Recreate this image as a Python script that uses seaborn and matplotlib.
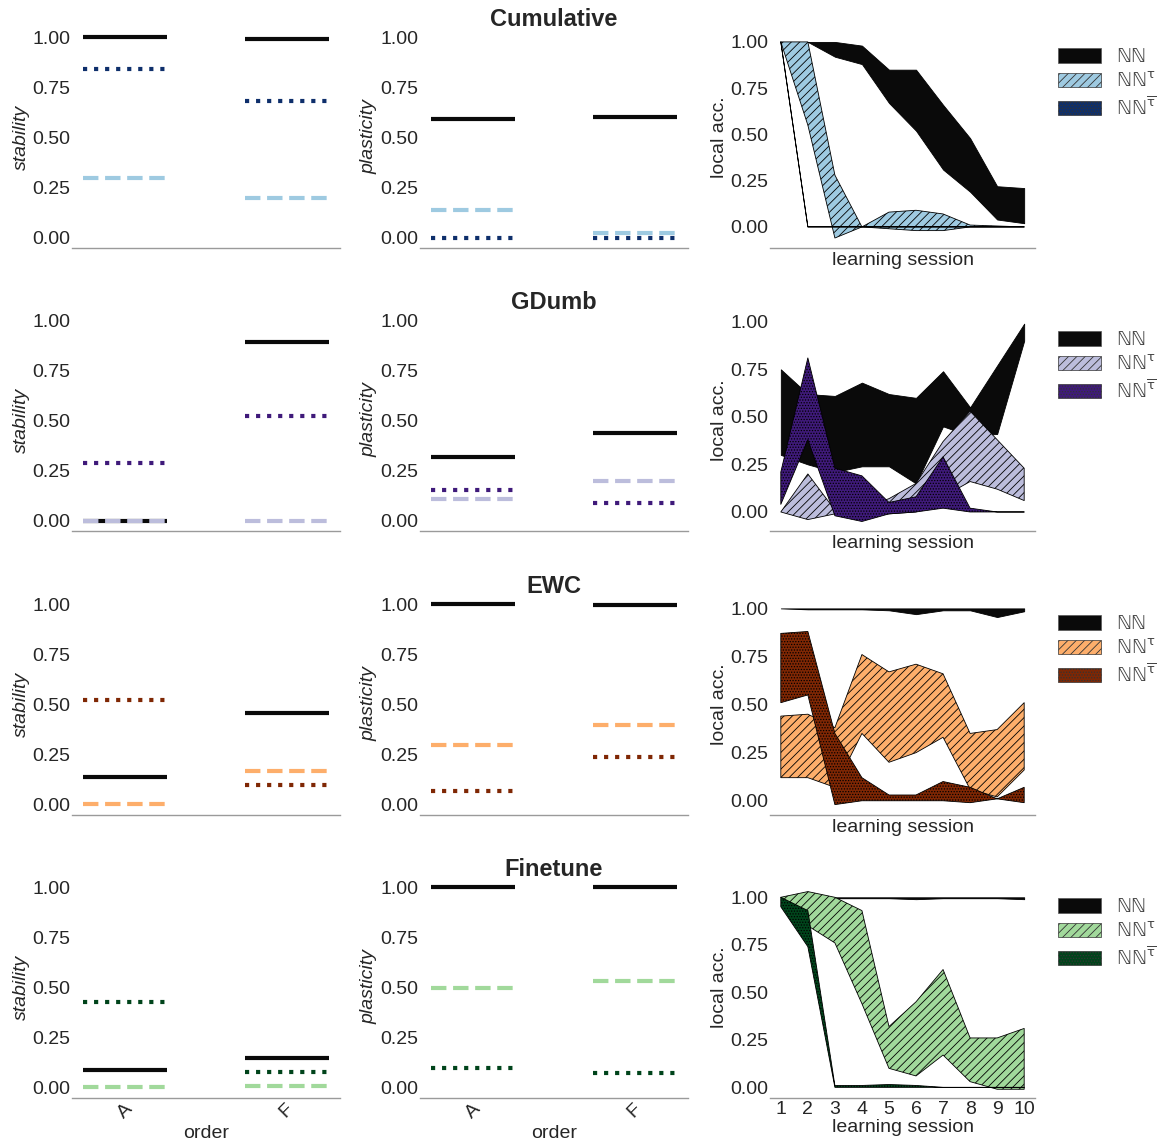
import numpy as np
import pandas as pd
import matplotlib
matplotlib.use("Agg")
import matplotlib.pyplot as plt
import matplotlib.patches as mpatches
from matplotlib.ticker import FormatStrFormatter
import seaborn as sns

# ---------------- data ----------------
methods = ["Cumulative", "GDumb", "EWC", "Finetune"]
orders = ["A", "F"]
sessions = [1, 2, 3, 4, 5, 6, 7, 8, 9, 10]
series_labels = ["ℕℕ", r"ℕℕ$^{\mathrm{\tau}}$", r"ℕℕ$^{\overline{\mathrm{\tau}}}$"]

light_colors = ["#9ecae1", "#bcbddc", "#fdae6b", "#a1d99b"]
dark_colors = ["#0e2f6b", "#3f1a7a", "#7f2704", "#00441b"]
nn_color = "#0a0a0a"

# stability per method (rows) for order A, F
stability_nn = [[1.00, 0.99], [0.00, 0.89], [0.14, 0.46], [0.09, 0.15]]
stability_tau = [[0.30, 0.20], [0.00, 0.00], [0.005, 0.17], [0.005, 0.01]]
stability_taubar = [[0.84, 0.68], [0.29, 0.52], [0.52, 0.10], [0.43, 0.08]]

# plasticity per method (rows) for order A, F
plasticity_nn = [[0.59, 0.60], [0.32, 0.44], [1.00, 0.995], [1.00, 1.00]]
plasticity_tau = [[0.14, 0.025], [0.11, 0.20], [0.30, 0.40], [0.50, 0.53]]
plasticity_taubar = [[0.0, 0.0], [0.154, 0.09], [0.07, 0.24], [0.10, 0.075]]

# local accuracy bands (lower / upper) over learning sessions
cum_nn_lo = [1.00, 1.00, 0.92, 0.88, 0.67, 0.52, 0.31, 0.19, 0.04, 0.02]
cum_nn_hi = [1.00, 1.00, 1.00, 0.98, 0.85, 0.85, 0.66, 0.48, 0.22, 0.21]
cum_tau_lo = [1.00, 0.55, -0.06, 0.00, -0.01, -0.02, -0.02, 0.00, 0.00, 0.00]
cum_tau_hi = [1.00, 1.00, 0.28, 0.00, 0.08, 0.09, 0.07, 0.01, 0.005, 0.00]
cum_taubar_lo = [1.00, 0.00, 0.00, 0.00, 0.00, 0.00, 0.00, 0.00, 0.00, 0.00]
cum_taubar_hi = [1.00, 0.00, 0.00, 0.00, 0.00, 0.00, 0.00, 0.00, 0.00, 0.00]

gd_nn_lo = [0.30, 0.25, 0.21, 0.24, 0.24, 0.15, 0.45, 0.40, 0.41, 0.90]
gd_nn_hi = [0.75, 0.62, 0.61, 0.68, 0.62, 0.60, 0.74, 0.55, 0.77, 0.99]
gd_tau_lo = [0.00, -0.04, -0.01, -0.02, -0.01, 0.00, 0.08, 0.16, 0.12, 0.06]
gd_tau_hi = [0.00, 0.20, 0.01, 0.02, 0.07, 0.15, 0.37, 0.53, 0.38, 0.23]
gd_taubar_lo = [0.04, 0.38, -0.02, -0.05, -0.01, 0.00, 0.02, 0.00, 0.00, 0.00]
gd_taubar_hi = [0.21, 0.81, 0.23, 0.19, 0.05, 0.08, 0.29, 0.02, 0.00, 0.00]

ewc_nn_lo = [1.00, 0.995, 0.995, 0.995, 0.99, 0.97, 0.99, 0.99, 0.955, 0.985]
ewc_nn_hi = [1.00, 1.00, 1.00, 1.00, 1.00, 1.00, 1.00, 1.00, 1.00, 1.00]
ewc_tau_lo = [0.12, 0.12, 0.07, 0.35, 0.20, 0.25, 0.33, 0.06, 0.02, 0.16]
ewc_tau_hi = [0.44, 0.45, 0.38, 0.76, 0.67, 0.71, 0.66, 0.35, 0.37, 0.51]
ewc_taubar_lo = [0.51, 0.55, -0.02, 0.00, 0.00, 0.00, 0.00, -0.01, 0.01, -0.01]
ewc_taubar_hi = [0.87, 0.88, 0.35, 0.12, 0.03, 0.03, 0.10, 0.07, 0.01, 0.07]

ft_nn_lo = [1.00, 1.00, 0.995, 0.995, 0.995, 0.99, 0.995, 0.995, 0.995, 0.99]
ft_nn_hi = [1.00, 1.00, 1.00, 1.00, 1.00, 1.00, 1.00, 1.00, 1.00, 1.00]
ft_tau_lo = [1.00, 0.85, 0.76, 0.44, 0.10, 0.06, 0.17, 0.03, -0.01, -0.01]
ft_tau_hi = [1.00, 1.03, 1.00, 0.93, 0.32, 0.45, 0.62, 0.26, 0.26, 0.31]
ft_taubar_lo = [0.95, 0.74, 0.00, 0.00, 0.00, 0.00, 0.00, 0.00, 0.00, 0.00]
ft_taubar_hi = [1.00, 0.93, 0.01, 0.01, 0.015, 0.01, 0.00, 0.00, 0.00, 0.00]

bands = [
    [(cum_nn_lo, cum_nn_hi), (cum_tau_lo, cum_tau_hi), (cum_taubar_lo, cum_taubar_hi)],
    [(gd_nn_lo, gd_nn_hi), (gd_tau_lo, gd_tau_hi), (gd_taubar_lo, gd_taubar_hi)],
    [(ewc_nn_lo, ewc_nn_hi), (ewc_tau_lo, ewc_tau_hi), (ewc_taubar_lo, ewc_taubar_hi)],
    [(ft_nn_lo, ft_nn_hi), (ft_tau_lo, ft_tau_hi), (ft_taubar_lo, ft_taubar_hi)],
]

# ---------------- style ----------------
sns.set_theme(style="white")
plt.rcParams["font.family"] = ["Liberation Sans", "DejaVu Sans"]
plt.rcParams["hatch.linewidth"] = 0.6
TXT = "#262626"
FS = 14

fig = plt.figure(figsize=(11.62, 11.42), dpi=100)
W, H = 1162.0, 1142.0
col_left = [72, 420, 770]
col_w = [268, 268, 265]
row_top = [26, 309, 593, 876]
row_bot = [248, 531, 815, 1098]
right_ylims = [(-0.114, 1.086), (-0.10, 1.067), (-0.074, 1.08), (-0.056, 1.112)]
yticks = [0.0, 0.25, 0.5, 0.75, 1.0]


def style_axis(ax):
    sns.despine(ax=ax, left=True)
    ax.spines["bottom"].set_color("#9a9a9a")
    ax.spines["bottom"].set_linewidth(1.0)
    ax.set_yticks(yticks)
    ax.yaxis.set_major_formatter(FormatStrFormatter("%.2f"))
    ax.tick_params(axis="y", labelsize=FS, pad=1, colors=TXT, length=0)
    ax.tick_params(axis="x", labelsize=FS, pad=2, colors=TXT, length=0)


def draw_levels(ax, values, color, ls):
    sns.boxplot(
        x=orders, y=values, order=orders, width=0.52, color=color, ax=ax,
        showfliers=False,
        boxprops=dict(visible=False),
        whiskerprops=dict(visible=False),
        capprops=dict(visible=False),
        medianprops=dict(color=color, linestyle=ls, linewidth=3,
                         solid_capstyle="butt", dash_capstyle="butt"),
    )


for r in range(4):
    axes = []
    for c in range(3):
        ax = fig.add_axes([col_left[c] / W, 1 - row_bot[r] / H,
                           col_w[c] / W, (row_bot[r] - row_top[r]) / H])
        axes.append(ax)
    ax_s, ax_p, ax_l = axes

    # stability / plasticity
    for ax, nn, tau, taubar, lab in [
        (ax_s, stability_nn[r], stability_tau[r], stability_taubar[r], "stability"),
        (ax_p, plasticity_nn[r], plasticity_tau[r], plasticity_taubar[r], "plasticity"),
    ]:
        draw_levels(ax, nn, nn_color, "-")
        draw_levels(ax, tau, light_colors[r], "--")
        draw_levels(ax, taubar, dark_colors[r], ":")
        style_axis(ax)
        ax.set_xlim(-0.33, 1.33)
        ax.set_ylim(-0.05, 1.055)
        ax.set_ylabel(lab, fontsize=FS, style="italic", color=TXT, labelpad=2)
        if r == 3:
            ax.set_xlabel("order", fontsize=FS, color=TXT, labelpad=2)
            ax.tick_params(axis="x", labelrotation=45)
        else:
            ax.set_xlabel("")
            ax.set_xticklabels([])

    ax_p.set_title(methods[r], fontsize=17, fontweight="bold", color=TXT, y=1.0, pad=0)

    # local accuracy bands
    styles = [(nn_color, None), (light_colors[r], "////"), (dark_colors[r], "......")]
    for (lo, hi), (col, hatch) in zip(bands[r], styles):
        df = pd.DataFrame({"session": sessions + sessions, "acc": list(lo) + list(hi)})
        ekw = dict(alpha=1, edgecolor="black", linewidth=0.6)
        if hatch:
            ekw["hatch"] = hatch
        sns.lineplot(data=df, x="session", y="acc", estimator="mean",
                     errorbar=("pi", 100), color=col, linewidth=0,
                     err_kws=ekw, ax=ax_l)
    style_axis(ax_l)
    ax_l.set_xlim(0.6, 10.4)
    ax_l.set_ylim(*right_ylims[r])
    ax_l.set_xticks(sessions)
    ax_l.set_ylabel("local acc.", fontsize=FS, color=TXT, labelpad=2)
    ax_l.set_xlabel("learning session", fontsize=FS, color=TXT, labelpad=1)
    if r < 3:
        ax_l.set_xticklabels([])

    handles = [
        mpatches.Patch(facecolor=nn_color, edgecolor="#555555", linewidth=0.5),
        mpatches.Patch(facecolor=light_colors[r], edgecolor="#333333", linewidth=0.5, hatch="////"),
        mpatches.Patch(facecolor=dark_colors[r], edgecolor="#333333", linewidth=0.5, hatch="......"),
    ]
    leg = ax_l.legend(handles, series_labels, loc="upper left",
                      bbox_to_anchor=(1.087, 0.905), frameon=False,
                      prop=dict(family="DejaVu Sans", style="italic", size=13.5),
                      handlelength=2.3, handleheight=0.8,
                      handletextpad=0.8, labelspacing=0.28,
                      borderpad=0, borderaxespad=0)
    for t in leg.get_texts():
        t.set_color("#444444")

fig.savefig("out.png", dpi=100)
